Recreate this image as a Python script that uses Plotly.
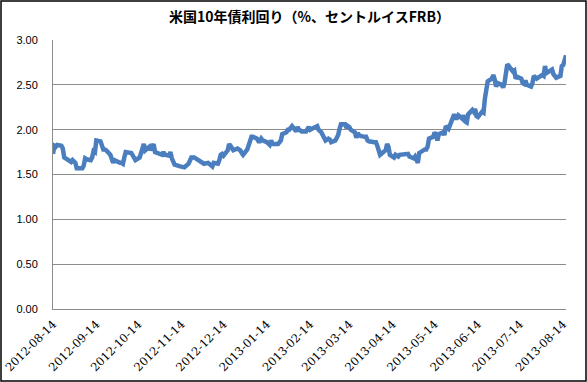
import plotly.graph_objects as go

title_text = "米国10年債利回り（%、セントルイスFRB）"

dates = [
    "2012-08-14", "2012-08-15", "2012-08-16", "2012-08-17", "2012-08-20", "2012-08-21", "2012-08-22",
    "2012-08-23", "2012-08-24", "2012-08-27", "2012-08-28", "2012-08-29", "2012-08-30", "2012-08-31",
    "2012-09-04", "2012-09-05", "2012-09-06", "2012-09-07", "2012-09-10", "2012-09-11", "2012-09-12",
    "2012-09-13", "2012-09-14", "2012-09-17", "2012-09-18", "2012-09-19", "2012-09-20", "2012-09-21",
    "2012-09-24", "2012-09-25", "2012-09-26", "2012-09-27", "2012-09-28", "2012-10-01", "2012-10-02",
    "2012-10-03", "2012-10-04", "2012-10-05", "2012-10-09", "2012-10-10", "2012-10-11", "2012-10-12",
    "2012-10-15", "2012-10-16", "2012-10-17", "2012-10-18", "2012-10-19", "2012-10-22", "2012-10-23",
    "2012-10-24", "2012-10-25", "2012-10-26", "2012-10-31", "2012-11-01", "2012-11-02", "2012-11-05",
    "2012-11-06", "2012-11-07", "2012-11-08", "2012-11-09", "2012-11-13", "2012-11-14", "2012-11-15",
    "2012-11-16", "2012-11-19", "2012-11-20", "2012-11-21", "2012-11-23", "2012-11-26", "2012-11-27",
    "2012-11-28", "2012-11-29", "2012-11-30", "2012-12-03", "2012-12-04", "2012-12-05", "2012-12-06",
    "2012-12-07", "2012-12-10", "2012-12-11", "2012-12-12", "2012-12-13", "2012-12-14", "2012-12-17",
    "2012-12-18", "2012-12-19", "2012-12-20", "2012-12-21", "2012-12-24", "2012-12-26", "2012-12-27",
    "2012-12-28", "2012-12-31", "2013-01-02", "2013-01-03", "2013-01-04", "2013-01-07", "2013-01-08",
    "2013-01-09", "2013-01-10", "2013-01-11", "2013-01-14", "2013-01-15", "2013-01-16", "2013-01-17",
    "2013-01-18", "2013-01-22", "2013-01-23", "2013-01-24", "2013-01-25", "2013-01-28", "2013-01-29",
    "2013-01-30", "2013-01-31", "2013-02-01", "2013-02-04", "2013-02-05", "2013-02-06", "2013-02-07",
    "2013-02-08", "2013-02-11", "2013-02-12", "2013-02-13", "2013-02-14", "2013-02-15", "2013-02-19",
    "2013-02-20", "2013-02-21", "2013-02-22", "2013-02-25", "2013-02-26", "2013-02-27", "2013-02-28",
    "2013-03-01", "2013-03-04", "2013-03-05", "2013-03-06", "2013-03-07", "2013-03-08", "2013-03-11",
    "2013-03-12", "2013-03-13", "2013-03-14", "2013-03-15", "2013-03-18", "2013-03-19", "2013-03-20",
    "2013-03-21", "2013-03-22", "2013-03-25", "2013-03-26", "2013-03-27", "2013-03-28", "2013-04-01",
    "2013-04-02", "2013-04-03", "2013-04-04", "2013-04-05", "2013-04-08", "2013-04-09", "2013-04-10",
    "2013-04-11", "2013-04-12", "2013-04-15", "2013-04-16", "2013-04-17", "2013-04-18", "2013-04-19",
    "2013-04-22", "2013-04-23", "2013-04-24", "2013-04-25", "2013-04-26", "2013-04-29", "2013-04-30",
    "2013-05-01", "2013-05-02", "2013-05-03", "2013-05-06", "2013-05-07", "2013-05-08", "2013-05-09",
    "2013-05-10", "2013-05-13", "2013-05-14", "2013-05-15", "2013-05-16", "2013-05-17", "2013-05-20",
    "2013-05-21", "2013-05-22", "2013-05-23", "2013-05-24", "2013-05-28", "2013-05-29", "2013-05-30",
    "2013-05-31", "2013-06-03", "2013-06-04", "2013-06-05", "2013-06-06", "2013-06-07", "2013-06-10",
    "2013-06-11", "2013-06-12", "2013-06-13", "2013-06-14", "2013-06-17", "2013-06-18", "2013-06-19",
    "2013-06-20", "2013-06-21", "2013-06-24", "2013-06-25", "2013-06-26", "2013-06-27", "2013-06-28",
    "2013-07-01", "2013-07-02", "2013-07-03", "2013-07-05", "2013-07-08", "2013-07-09", "2013-07-10",
    "2013-07-11", "2013-07-12", "2013-07-15", "2013-07-16", "2013-07-17", "2013-07-18", "2013-07-19",
    "2013-07-22", "2013-07-23", "2013-07-24", "2013-07-25", "2013-07-26", "2013-07-29", "2013-07-30",
    "2013-07-31", "2013-08-01", "2013-08-02", "2013-08-05", "2013-08-06", "2013-08-07", "2013-08-08",
    "2013-08-09", "2013-08-12", "2013-08-13", "2013-08-14", "2013-08-15", "2013-08-16",
]

yields = [
    1.73, 1.82, 1.81, 1.83, 1.82, 1.79, 1.69,
    1.68, 1.67, 1.64, 1.66, 1.65, 1.63, 1.57,
    1.57, 1.60, 1.68, 1.67, 1.66, 1.69, 1.76,
    1.75, 1.88, 1.87, 1.81, 1.78, 1.78, 1.77,
    1.72, 1.67, 1.63, 1.66, 1.65, 1.63, 1.63,
    1.62, 1.69, 1.75, 1.74, 1.71, 1.67, 1.66,
    1.69, 1.74, 1.82, 1.84, 1.77, 1.81, 1.77,
    1.80, 1.84, 1.75, 1.72, 1.75, 1.72, 1.71,
    1.75, 1.68, 1.63, 1.61, 1.59, 1.59, 1.58,
    1.58, 1.62, 1.66, 1.69, 1.69, 1.66, 1.64,
    1.63, 1.62, 1.62, 1.63, 1.62, 1.61, 1.59,
    1.63, 1.62, 1.66, 1.72, 1.73, 1.71, 1.77,
    1.84, 1.82, 1.79, 1.77, 1.79, 1.77, 1.74,
    1.72, 1.78, 1.86, 1.92, 1.92, 1.90, 1.87,
    1.87, 1.90, 1.88, 1.86, 1.84, 1.83, 1.88,
    1.84, 1.84, 1.86, 1.88, 1.95, 1.97, 2.00,
    2.00, 2.02, 2.04, 1.98, 2.03, 2.00, 1.99,
    1.98, 1.98, 2.00, 2.03, 2.00, 2.01, 2.04,
    2.00, 1.98, 1.97, 1.88, 1.89, 1.90, 1.89,
    1.86, 1.88, 1.90, 1.94, 2.01, 2.06, 2.06,
    2.02, 2.04, 2.03, 2.00, 1.97, 1.91, 1.96,
    1.94, 1.93, 1.92, 1.92, 1.88, 1.87, 1.86,
    1.86, 1.82, 1.77, 1.72, 1.76, 1.77, 1.84,
    1.81, 1.72, 1.69, 1.72, 1.70, 1.70, 1.72,
    1.72, 1.72, 1.72, 1.73, 1.70, 1.68, 1.70,
    1.66, 1.63, 1.74, 1.78, 1.78, 1.78, 1.81,
    1.90, 1.92, 1.97, 1.94, 1.88, 1.95, 1.97,
    1.94, 2.04, 2.02, 2.01, 2.17, 2.13, 2.13,
    2.16, 2.12, 2.16, 2.09, 2.08, 2.17, 2.22,
    2.20, 2.23, 2.15, 2.14, 2.20, 2.19, 2.35,
    2.42, 2.54, 2.57, 2.61, 2.56, 2.48, 2.52,
    2.50, 2.47, 2.52, 2.73, 2.67, 2.65, 2.66,
    2.57, 2.59, 2.57, 2.52, 2.51, 2.55, 2.50,
    2.48, 2.52, 2.60, 2.59, 2.57, 2.60, 2.61,
    2.60, 2.71, 2.63, 2.66, 2.67, 2.62, 2.60,
    2.58, 2.60, 2.71, 2.72, 2.77, 2.83,
]

tick_dates = [
    "2012-08-14", "2012-09-14", "2012-10-14", "2012-11-14", "2012-12-14", "2013-01-14", "2013-02-14",
    "2013-03-14", "2013-04-14", "2013-05-14", "2013-06-14", "2013-07-14", "2013-08-14",
]
tick_labels = list(tick_dates)

y_ticks = [0.0, 0.5, 1.0, 1.5, 2.0, 2.5, 3.0]

fig = go.Figure()
fig.add_trace(go.Scatter(
    x=dates, y=yields, mode="lines",
    line=dict(color="#4A7EBF", width=4.5),
    hoverinfo="x+y", showlegend=False,
))

grid_col = "#8C8C8C"
fig.update_layout(
    width=587, height=382,
    margin=dict(l=53, r=21, t=40, b=73, autoexpand=False),
    paper_bgcolor="white", plot_bgcolor="white",
    title=dict(text=title_text, x=0.5, xref="paper", xanchor="center",
               y=1 - 17 / 382, yref="container", yanchor="middle",
               font=dict(family="Noto Sans CJK JP", size=14, color="#000000", weight="bold")),
    xaxis=dict(
        type="date", range=[dates[0], dates[-1]], automargin=False,
        tickmode="array", tickvals=tick_dates, ticktext=tick_labels,
        tickangle=-45, showgrid=False, showline=True, linecolor=grid_col, linewidth=1,
        ticks="", ticklabelstandoff=3,
        tickfont=dict(family="DejaVu Serif", size=11.5, color="#000000"),
        zeroline=False,
    ),
    yaxis=dict(
        range=[0, 3.0], tickmode="array", tickvals=y_ticks, automargin=False,
        ticktext=[f"{v:.2f}" for v in y_ticks],
        showgrid=True, gridcolor=grid_col, gridwidth=1,
        showline=True, linecolor=grid_col, linewidth=1,
        ticks="", ticklabelstandoff=12,
        tickfont=dict(family="Liberation Sans", size=11, color="#000000"),
        zeroline=False,
    ),
)

# outer chart border
fig.add_shape(type="rect", xref="paper", yref="paper",
              x0=(1 - 53) / 513, x1=(586 - 53) / 513,
              y0=(309 - 381) / 269, y1=(309 - 1) / 269,
              line=dict(color="#000000", width=1.5), fillcolor="rgba(0,0,0,0)", layer="above")

fig.write_html("out.html", config={"displayModeBar": False},
               post_script="document.body.style.margin='0';document.body.style.padding='0';")
